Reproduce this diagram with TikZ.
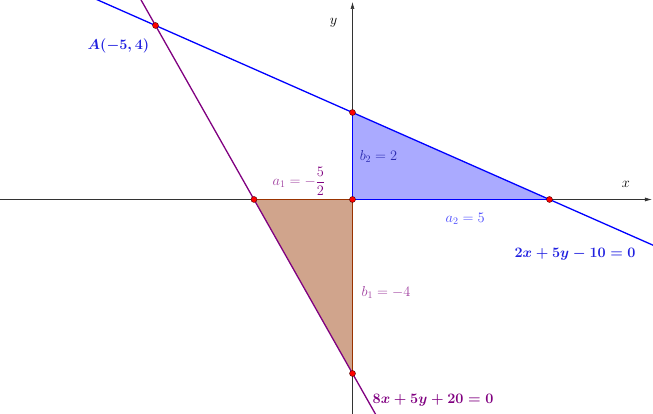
\documentclass[tikz,border=0pt]{standalone}
\usetikzlibrary{arrows.meta}
\definecolor{lblue}{HTML}{0000FF}
\definecolor{lpurple}{HTML}{800080}
\definecolor{fblue}{HTML}{AAAAFF}
\definecolor{fbrown}{HTML}{D0A48C}
\definecolor{ebrown}{HTML}{993300}
\definecolor{tblueA}{HTML}{2020E0}
\definecolor{tblueB}{HTML}{2A2AB0}
\definecolor{tblueC}{HTML}{4848FF}
\definecolor{tpurpA}{HTML}{A040A0}
\begin{document}
\begin{tikzpicture}[x=39.4pt,y=43.5pt,
  axis/.style={draw=black!80,line width=0.6pt,-{Latex[length=7pt,width=4pt]}},
  bline/.style={draw=lblue,line width=1.3pt},
  pline/.style={draw=lpurple,line width=1.3pt},
  bedge/.style={draw=lblue,line width=1.1pt},
  redge/.style={draw=ebrown,line width=1.1pt},
  ptdot/.style={circle,fill=red,draw=black!70!red,line width=0.4pt,inner sep=0pt,minimum size=6pt},
  lbl/.style={inner sep=1pt,font=\Large},
  blbl/.style={inner sep=1pt,font=\Large\boldmath}]
\useasboundingbox (-8.947,-4.931) rectangle (7.627,4.586);
\clip (-8.947,-4.931) rectangle (7.627,4.586);
% key points
\coordinate (O) at (0,0);
\coordinate (P) at (5,0);
\coordinate (Q) at (0,2);
\coordinate (R) at (-2.5,0);
\coordinate (S) at (0,-4);
\coordinate (A) at (-5,4);
\coordinate (B1) at (-7,4.8);
\coordinate (B2) at (7.8,-1.12);
\coordinate (C1) at (-5.6,4.96);
\coordinate (C2) at (0.7,-5.12);
\coordinate (XL) at (-8.96,0);
\coordinate (XR) at (7.60,0);
\coordinate (YB) at (0,-4.95);
\coordinate (YT) at (0,4.54);
% fills
\fill[fblue] (O) -- (P) -- (Q) -- cycle;
\fill[fbrown] (O) -- (R) -- (S) -- cycle;
% axes
\draw[axis] (XL) -- (XR);
\draw[axis] (YB) -- (YT);
% triangle edges
\draw[bedge] (Q) -- (O) -- (P);
\draw[redge] (R) -- (O) -- (S);
% lines
\draw[bline] (B1) -- (B2);
\draw[pline] (C1) -- (C2);
% points
\node[ptdot] (dA) at (A) {};
\node[ptdot] (dQ) at (Q) {};
\node[ptdot] (dP) at (P) {};
\node[ptdot] (dO) at (O) {};
\node[ptdot] (dR) at (R) {};
\node[ptdot] (dS) at (S) {};
% labels
\node[lbl] (ly) at (-0.48,4.07) {$y$};
\node[lbl] (lx) at (6.94,0.345) {$x$};
\node[blbl,text=tblueA] (lA) at (-5.94,3.54) {$A(-5,4)$};
\node[lbl,text=tblueB] (lb2) at (0.66,0.99) {$b_2=2$};
\node[lbl] (la1) at (-1.36,0.42) {$\color{tpurpA}a_1=-\color{lpurple}\displaystyle\frac{5}{2}$};
\node[lbl,text=tblueC] (la2) at (2.86,-0.437) {$a_2=5$};
\node[blbl,text=tblueA] (le1) at (5.65,-1.264) {$2x+5y-10=0$};
\node[lbl,text=tpurpA] (lb1) at (0.85,-2.14) {$b_1=-4$};
\node[blbl,text=lpurple] (le2) at (2.045,-4.62) {$8x+5y+20=0$};
\end{tikzpicture}
\end{document}
